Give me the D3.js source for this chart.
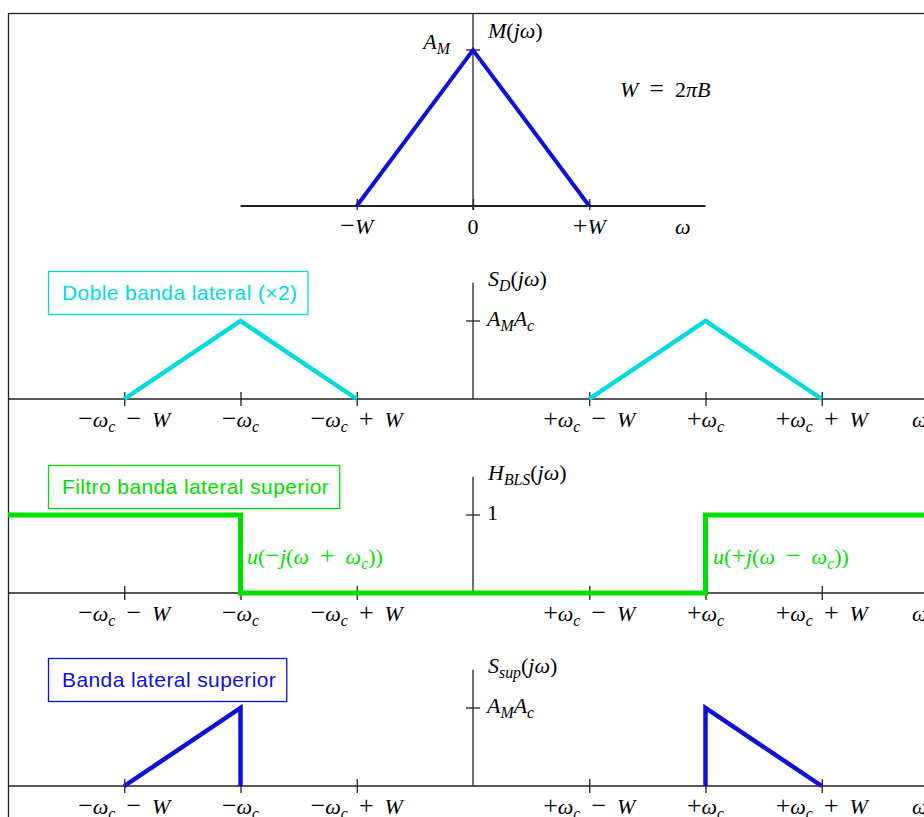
<!DOCTYPE html>
<html>
<head>
<meta charset="utf-8">
<script src="https://cdn.jsdelivr.net/npm/d3@7"></script>
<style>
  body { margin: 0; background: #fff; overflow: hidden; }
  svg { display: block; }
</style>
</head>
<body>
<div id="chart"></div>
<script>
// frequency positions are in units of W, with omega_c = 2W
const tickPos = [-3, -2, -1, 1, 2, 3];
const tickLabels = ["−ω_c − W", "−ω_c", "−ω_c + W", "+ω_c − W", "+ω_c", "+ω_c + W"];
const msgTickPos = [-1, 0, 1];
const msgTickLabels = ["−W", "0", "+W"];

// M(jw): message spectrum
const msgX = [-1, 0, 1];
const msgY = [0, 1, 0];
// S_D(jw): double sideband
const dsbX = [[-3, -2, -1], [1, 2, 3]];
const dsbY = [[0, 1, 0], [0, 1, 0]];
// H_BLS(jw): upper sideband filter
const filtX = [-4, -2, -2, 2, 2, 4];
const filtY = [1, 1, 0, 0, 1, 1];
// S_sup(jw): upper sideband
const usbX = [[-3, -2, -2], [2, 2, 3]];
const usbY = [[0, 1, 0], [0, 1, 0]];

const panelTitles = ["M(jω)", "S_D(jω)", "H_{BLS}(jω)", "S_{sup}(jω)"];
const levelLabels = ["A_M", "A_MA_c", "1", "A_MA_c"];
const legendTexts = ["Doble banda lateral (×2)", "Filtro banda lateral superior", "Banda lateral superior"];

const blue = "#1010d8", cyan = "#00dcdc", green = "#00e000", ink = "#222";

const width = 924, height = 817;
const svg = d3.select("#chart").append("svg")
    .attr("width", width)
    .attr("height", height);

const x = d3.scaleLinear().domain([-4, 4]).range([8, 938]);

// panel baselines
const bases = [206, 399, 593, 786];
const yScales = bases.map((b, i) =>
    d3.scaleLinear().domain([0, 1]).range(i === 0 ? [b, b - 156] : [b, b - 78]));

// simple math typesetting: letters italic, "_x" or "_{xyz}" subscript,
// operators a bit larger, spaces become en-spaces
function mathText(sel, str, size = 22) {
    sel.style("font-family", "'Liberation Serif', 'DejaVu Serif', serif")
        .style("font-size", size + "px")
        .style("white-space", "pre");
    str = str.replace(/ /g, "\u2002");
    let i = 0, shift = 0;
    const kind = ch => /[A-Za-z\u03b1-\u03c9]/.test(ch) ? "i" : (/[−+=]/.test(ch) ? "o" : "r");
    while (i < str.length) {
        let ch = str[i];
        if (ch === "_") {
            let sub;
            if (str[i + 1] === "{") {
                const end = str.indexOf("}", i);
                sub = str.slice(i + 2, end);
                i = end + 1;
            } else {
                sub = str[i + 1];
                i += 2;
            }
            sel.append("tspan")
                .attr("dy", 5 - shift)
                .style("font-style", "italic")
                .style("font-size", (size * 0.72) + "px")
                .text(sub);
            shift = 5;
            continue;
        }
        let run = "";
        const k = kind(ch);
        while (i < str.length && str[i] !== "_" && kind(str[i]) === k) {
            run += str[i];
            i++;
        }
        sel.append("tspan")
            .attr("dy", -shift)
            .style("font-style", k === "i" ? "italic" : "normal")
            .style("font-size", k === "o" ? (size * 1.18) + "px" : null)
            .text(run);
        shift = 0;
    }
    return sel;
}

const line = d3.line();

function drawAxes(i) {
    const base = bases[i];
    const y = yScales[i];
    const g = svg.append("g");
    const x0 = x(0);

    if (i === 0) {
        g.append("line")
            .attr("x1", x(-2)).attr("x2", x(2))
            .attr("y1", base).attr("y2", base)
            .attr("stroke", ink).attr("stroke-width", 1.8);
        const ax = g.append("g")
            .attr("transform", `translate(0,${base})`)
            .call(d3.axisBottom(x).tickValues(msgTickPos).tickSize(4).tickFormat(""));
        ax.select(".domain").remove();
        ax.selectAll(".tick line").attr("y1", -7).attr("stroke", ink).attr("stroke-width", 1.3);
        g.append("line")
            .attr("x1", x0).attr("x2", x0)
            .attr("y1", 13).attr("y2", base + 4)
            .attr("stroke", ink).attr("stroke-width", 1.3);
        msgTickPos.forEach((p, k) => {
            mathText(g.append("text")
                .attr("x", x(p)).attr("y", base + 28)
                .attr("text-anchor", "middle"), msgTickLabels[k]);
        });
        mathText(g.append("text").attr("x", 675).attr("y", base + 28), "ω");
    } else {
        g.append("line")
            .attr("x1", x(-4)).attr("x2", x(4))
            .attr("y1", base).attr("y2", base)
            .attr("stroke", ink).attr("stroke-width", 1.5);
        const ax = g.append("g")
            .attr("transform", `translate(0,${base})`)
            .call(d3.axisBottom(x).tickValues(tickPos).tickSize(7).tickFormat(""));
        ax.select(".domain").remove();
        ax.selectAll(".tick line").attr("y1", -7).attr("stroke", ink).attr("stroke-width", 1.3);
        g.append("line")
            .attr("x1", x0).attr("x2", x0)
            .attr("y1", y(1.49)).attr("y2", base)
            .attr("stroke", ink).attr("stroke-width", 1.3);
        tickPos.forEach((p, k) => {
            mathText(g.append("text")
                .attr("x", x(p)).attr("y", base + 28)
                .attr("text-anchor", "middle"), tickLabels[k]);
        });
        mathText(g.append("text").attr("x", 912).attr("y", base + 28), "ω");
    }

    // level tick on the vertical axis
    g.append("line")
        .attr("x1", x0 - 7).attr("x2", x0 + 7)
        .attr("y1", y(1)).attr("y2", y(1))
        .attr("stroke", ink).attr("stroke-width", 1.3);

    if (i === 0) {
        mathText(g.append("text")
            .attr("x", x0 - 23).attr("y", y(1) - 1)
            .attr("text-anchor", "end"), levelLabels[i]);
        mathText(g.append("text").attr("x", 488).attr("y", 38), panelTitles[i]);
        mathText(g.append("text").attr("x", 620).attr("y", 97), "W = 2πB");
    } else {
        mathText(g.append("text").attr("x", 487).attr("y", y(1) + 5), levelLabels[i]);
        mathText(g.append("text").attr("x", 488).attr("y", base - 113), panelTitles[i]);
    }
}

function legend(i, text, color) {
    const base = bases[i];
    const g = svg.append("g");
    const rect = g.append("rect")
        .attr("x", 48.5).attr("y", base - 127.5)
        .attr("height", 43)
        .attr("fill", "#fff")
        .attr("stroke", color).attr("stroke-width", 1.3);
    const t = g.append("text")
        .attr("x", 62).attr("y", base - 99)
        .attr("fill", color)
        .style("font-family", "'Liberation Sans', Arial, sans-serif")
        .style("font-size", "21px")
        .style("letter-spacing", "0.4px")
        .text(text);
    const w = t.node().getComputedTextLength();
    rect.attr("width", w + 24);
}

// outer frame
svg.append("rect")
    .attr("x", 8.5).attr("y", 13.5)
    .attr("width", 940).attr("height", 830)
    .attr("fill", "none")
    .attr("stroke", ink).attr("stroke-width", 1.3);

[0, 1, 2, 3].forEach(drawAxes);

// message spectrum
svg.append("path")
    .datum(msgX.map((v, k) => [x(v), yScales[0](msgY[k])]))
    .attr("d", line)
    .attr("fill", "none").attr("stroke", blue).attr("stroke-width", 4);

// double sideband
dsbX.forEach((xs, s) => {
    svg.append("path")
        .datum(xs.map((v, k) => [x(v), yScales[1](dsbY[s][k])]))
        .attr("d", line)
        .attr("fill", "none").attr("stroke", cyan).attr("stroke-width", 4.5);
});

// filter
svg.append("path")
    .datum(filtX.map((v, k) => [x(v), yScales[2](filtY[k])]))
    .attr("d", line)
    .attr("fill", "none").attr("stroke", green).attr("stroke-width", 5);

// upper sideband
usbX.forEach((xs, s) => {
    svg.append("path")
        .datum(xs.map((v, k) => [x(v), yScales[3](usbY[s][k])]))
        .attr("d", line)
        .attr("fill", "none").attr("stroke", blue).attr("stroke-width", 4.5);
});

// step labels of the filter
mathText(svg.append("text").attr("x", 247).attr("y", 564).attr("fill", green), "u(−j(ω + ω_c))");
mathText(svg.append("text").attr("x", 713).attr("y", 564).attr("fill", green), "u(+j(ω − ω_c))");

legend(1, legendTexts[0], cyan);
legend(2, legendTexts[1], green);
legend(3, legendTexts[2], blue);
</script>
</body>
</html>
